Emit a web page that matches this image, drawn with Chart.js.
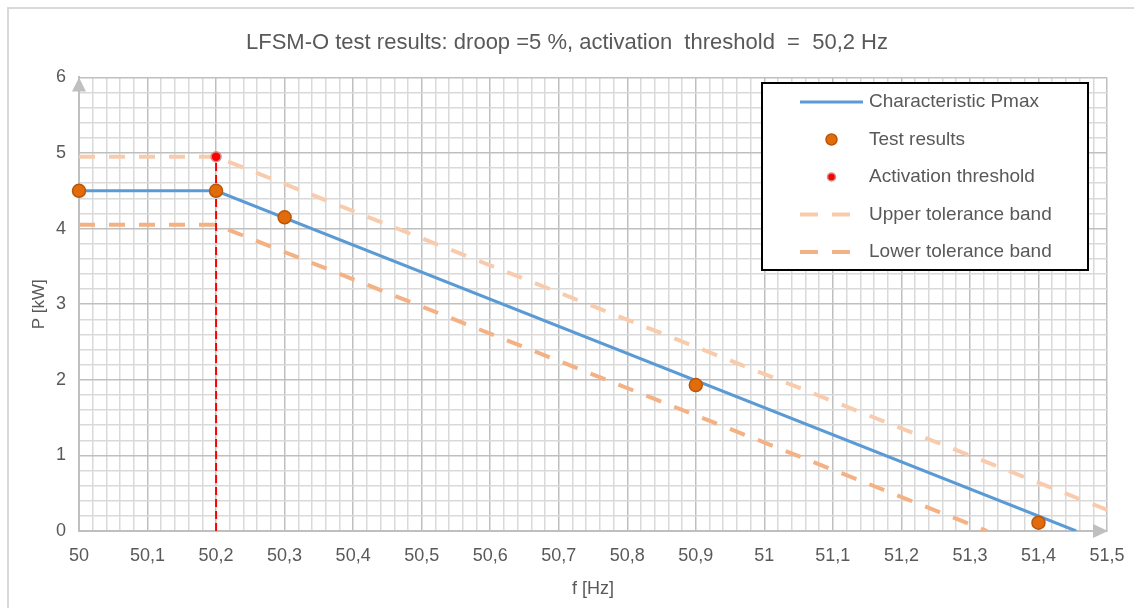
<!DOCTYPE html>
<html>
<head>
<meta charset="utf-8">
<script src="https://cdn.jsdelivr.net/npm/chart.js@4.4.1/dist/chart.umd.min.js"></script>
<style>
  html, body { margin: 0; padding: 0; background: #ffffff; }
  #wrap { position: relative; width: 1134px; height: 608px; }
  canvas { display: block; }
</style>
</head>
<body>
<div id="wrap"><canvas id="c" width="1134" height="608"></canvas></div>
<script>
// ---- data ----
const titleText = 'LFSM-O test results: droop =5 %, activation  threshold  =  50,2 Hz';
const xTitle = 'f [Hz]';
const yTitle = 'P [kW]';

const xTickLabels = ['50','50,1','50,2','50,3','50,4','50,5','50,6','50,7','50,8','50,9','51','51,1','51,2','51,3','51,4','51,5'];
const yTickLabels = ['0','1','2','3','4','5','6'];

const charF = [50, 50.2, 51.455];
const charP = [4.5, 4.5, 0];

const testF = [50, 50.2, 50.3, 50.9, 51.4];
const testP = [4.5, 4.5, 4.15, 1.93, 0.11];

const thrF = [50.2];
const thrP = [4.95];

const thrLineF = [50.2, 50.2];
const thrLineP = [0, 4.95];

const upperF = [50, 50.2, 51.5];
const upperP = [4.95, 4.95, 0.28];

const lowerF = [50, 50.2, 51.325];
const lowerP = [4.05, 4.05, 0];

const xMin = 50, xMax = 51.5, xMinorPerMajor = 5;
const yMin = 0, yMax = 6, yMinorPerMajor = 5;

// ---- helpers ----
const pts = (xs, ys) => xs.map((x, i) => ({ x: x, y: ys[i] }));
const FONT = "'Liberation Sans', Arial, sans-serif";
const TXT = '#595959';

function buildTicks(min, max, labels, minorPer) {
  const majorStep = (max - min) / (labels.length - 1);
  const n = (labels.length - 1) * minorPer;
  const out = [];
  for (let i = 0; i <= n; i++) {
    out.push({ value: min + i * majorStep / minorPer, major: i % minorPer === 0 });
  }
  return out;
}

const datasets = [
  { label: 'Characteristic Pmax', data: pts(charF, charP), showLine: true,
    borderColor: '#5B9BD5', borderWidth: 3, pointRadius: 0, pointHoverRadius: 0, order: 3,
    legendKind: 'line' },
  { label: 'Test results', data: pts(testF, testP), showLine: false, clip: false,
    backgroundColor: '#E36C0A', borderColor: '#B9560E', borderWidth: 1.5, pointRadius: 6.5, order: 1,
    legendKind: 'point' },
  { label: 'Activation threshold', data: pts(thrF, thrP), showLine: false, clip: false,
    backgroundColor: '#FF0000', borderColor: '#D09090', borderWidth: 1.5, pointRadius: 5, order: 0,
    legendKind: 'point' },
  { label: 'Upper tolerance band', data: pts(upperF, upperP), showLine: true,
    borderColor: '#F8CBAD', borderWidth: 4, borderDash: [16, 14], pointRadius: 0, order: 5,
    legendKind: 'dash' },
  { label: 'Lower tolerance band', data: pts(lowerF, lowerP), showLine: true,
    borderColor: '#F4B183', borderWidth: 4, borderDash: [16, 14], pointRadius: 0, order: 6,
    legendKind: 'dash' },
  { label: 'threshold line', data: pts(thrLineF, thrLineP), showLine: true,
    borderColor: '#FF0000', borderWidth: 2, borderDash: [8, 4], pointRadius: 0, order: 2,
    legendKind: null }
];

const frame = {
  id: 'frame',
  beforeDraw(chart) {
    const ctx = chart.ctx;
    ctx.save();
    ctx.fillStyle = '#fff';
    ctx.fillRect(0, 0, chart.width, chart.height);
    ctx.strokeStyle = '#D9D9D9';
    ctx.lineWidth = 2;
    ctx.beginPath();
    ctx.moveTo(8, chart.height + 5);
    ctx.lineTo(8, 8);
    ctx.lineTo(chart.width + 5, 8);
    ctx.stroke();
    ctx.restore();
  },
  afterDatasetsDraw(chart) {
    const ctx = chart.ctx;
    const a = chart.chartArea;
    ctx.save();
    ctx.fillStyle = '#BFBFBF';
    ctx.beginPath();
    ctx.moveTo(a.left, a.top);
    ctx.lineTo(a.left - 7, a.top + 14);
    ctx.lineTo(a.left + 7, a.top + 14);
    ctx.closePath();
    ctx.fill();
    ctx.beginPath();
    ctx.moveTo(a.right + 1, a.bottom);
    ctx.lineTo(a.right - 14, a.bottom - 7);
    ctx.lineTo(a.right - 14, a.bottom + 7);
    ctx.closePath();
    ctx.fill();
    ctx.restore();
  },
  afterDraw(chart) {
    const ctx = chart.ctx;
    const box = { x: 762, y: 83, w: 326, h: 187 };
    ctx.save();
    ctx.fillStyle = '#ffffff';
    ctx.fillRect(box.x, box.y, box.w, box.h);
    ctx.strokeStyle = '#000000';
    ctx.lineWidth = 2;
    ctx.strokeRect(box.x, box.y, box.w, box.h);
    const items = chart.data.datasets.filter(d => d.legendKind);
    const rowY0 = 102, rowStep = 37.5;
    const sx0 = 800, sx1 = 863, textX = 869;
    ctx.font = '19px ' + FONT;
    ctx.textBaseline = 'middle';
    items.forEach((d, i) => {
      const y = rowY0 + i * rowStep;
      ctx.save();
      if (d.legendKind === 'line' || d.legendKind === 'dash') {
        ctx.strokeStyle = d.borderColor;
        ctx.lineWidth = d.borderWidth;
        ctx.setLineDash(d.legendKind === 'dash' ? [18, 14] : []);
        ctx.beginPath();
        ctx.moveTo(sx0, y);
        ctx.lineTo(sx1, y);
        ctx.stroke();
      } else {
        ctx.fillStyle = d.backgroundColor;
        ctx.strokeStyle = d.borderColor;
        ctx.lineWidth = d.borderWidth;
        ctx.beginPath();
        ctx.arc((sx0 + sx1) / 2, y, d.pointRadius - 1, 0, Math.PI * 2);
        ctx.fill();
        ctx.stroke();
      }
      ctx.restore();
      ctx.fillStyle = TXT;
      ctx.fillText(d.label, textX, y);
    });
    ctx.restore();
  }
};

new Chart(document.getElementById('c'), {
  type: 'scatter',
  data: { datasets: datasets },
  plugins: [frame],
  options: {
    responsive: false,
    animation: false,
    events: [],
    layout: { padding: { left: 27, right: 27, top: 0, bottom: 0 } },
    plugins: {
      legend: { display: false },
      tooltip: { enabled: false },
      title: {
        display: true,
        text: titleText,
        color: TXT,
        font: { family: FONT, size: 22, weight: 'normal' },
        padding: { top: 30, bottom: 21 }
      }
    },
    scales: {
      x: {
        type: 'linear', min: xMin, max: xMax,
        afterBuildTicks(scale) { scale.ticks = buildTicks(xMin, xMax, xTickLabels, xMinorPerMajor); },
        afterFit(scale) { scale.height = 77; scale.paddingLeft = 0; scale.paddingRight = 0; },
        ticks: {
          autoSkip: false, maxRotation: 0, padding: 14,
          color: TXT, font: { family: FONT, size: 18 },
          callback(v, i) { return i % xMinorPerMajor === 0 ? xTickLabels[i / xMinorPerMajor] : ''; }
        },
        grid: {
          drawTicks: false,
          color(ctx) { return ctx.tick && ctx.tick.major ? '#BFBFBF' : '#D9D9D9'; },
          lineWidth: 1.5
        },
        border: { color: '#BFBFBF', width: 2 },
        title: { display: true, text: xTitle, color: TXT, font: { family: FONT, size: 18 }, padding: { top: 8, bottom: 8 } }
      },
      y: {
        type: 'linear', min: yMin, max: yMax,
        afterBuildTicks(scale) { scale.ticks = buildTicks(yMin, yMax, yTickLabels, yMinorPerMajor); },
        afterFit(scale) { scale.width = 52; scale.paddingTop = 0; scale.paddingBottom = 0; },
        ticks: {
          autoSkip: false, padding: 13,
          color: TXT, font: { family: FONT, size: 18 },
          callback(v, i) { return i % yMinorPerMajor === 0 ? yTickLabels[i / yMinorPerMajor] : ''; }
        },
        grid: {
          drawTicks: false,
          color(ctx) { return ctx.tick && ctx.tick.major ? '#BFBFBF' : '#D9D9D9'; },
          lineWidth: 1.5
        },
        border: { color: '#BFBFBF', width: 2 },
        title: { display: true, text: yTitle, color: TXT, font: { family: FONT, size: 17 }, padding: { top: 2, bottom: 2 } }
      }
    }
  }
});
</script>
</body>
</html>
